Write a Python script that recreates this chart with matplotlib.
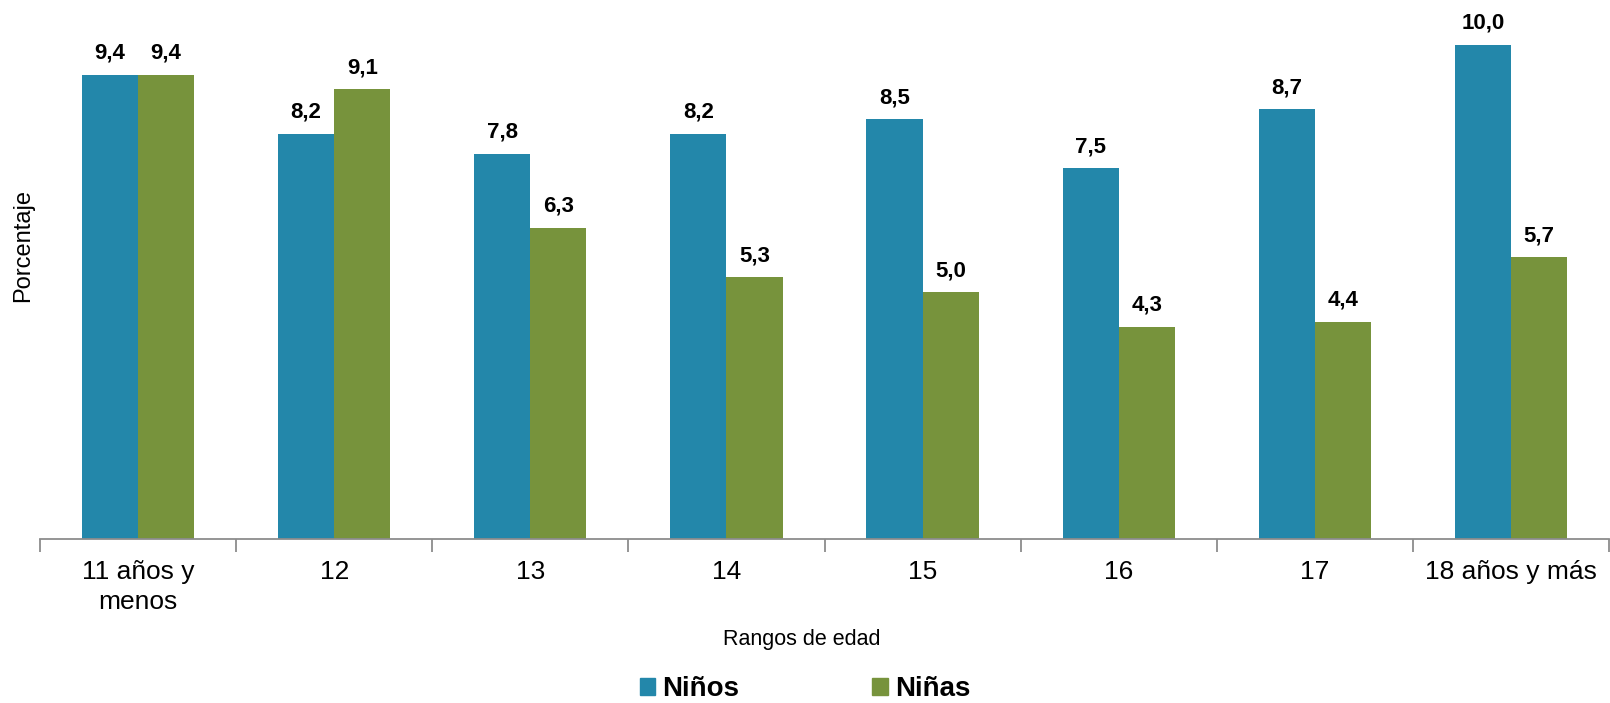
import numpy as np
import matplotlib.pyplot as plt
from matplotlib.patches import Patch

plt.rcParams['font.family'] = ['Liberation Sans', 'DejaVu Sans']

categorias = ['11 años y\nmenos', '12', '13', '14', '15', '16', '17', '18 años y más']
ninos = [9.4, 8.2, 7.8, 8.2, 8.5, 7.5, 8.7, 10.0]
ninas = [9.4, 9.1, 6.3, 5.3, 5.0, 4.3, 4.4, 5.7]

azul = '#2387AA'
verde = '#77933C'

fig = plt.figure(figsize=(16.1, 7.03), dpi=100)
ax = fig.add_axes([40/1610, 164/703, 1569/1610, 539/703])

x = np.arange(len(categorias))
w = 0.286
b1 = ax.bar(x - w/2, ninos, w, color=azul)
b2 = ax.bar(x + w/2, ninas, w, color=verde)

for bars, vals in ((b1, ninos), (b2, ninas)):
    for r, v in zip(bars, vals):
        ax.annotate(f'{v:.1f}'.replace('.', ','),
                    (r.get_x() + r.get_width()/2, r.get_height()),
                    xytext=(0, 11.5), textcoords='offset points',
                    ha='center', va='baseline', fontsize=16, fontweight='bold')

ax.set_xlim(-0.5, len(categorias) - 0.5)
ax.set_ylim(0, 10.91)
ax.set_xticks(x)
ax.set_xticklabels(categorias, fontsize=19, linespacing=1.3)
ax.set_xticks(np.arange(len(categorias) + 1) - 0.5, minor=True)
ax.tick_params(axis='x', which='major', length=0, pad=15)
ax.tick_params(axis='x', which='minor', length=9, width=1.3, color='#8c8c8c')
ax.set_yticks([])
for s in ('top', 'right', 'left'):
    ax.spines[s].set_visible(False)
ax.spines['bottom'].set_color('#8c8c8c')
ax.spines['bottom'].set_linewidth(1.3)

fig.text(802/1610, 1 - 639/703, 'Rangos de edad', ha='center', va='center', fontsize=15.5)
fig.text(23/1610, 1 - 245/703, 'Porcentaje', ha='center', va='center', rotation=90, fontsize=17)

handles = [Patch(color=azul, label='Niños'), Patch(color=verde, label='Niñas')]
fig.legend(handles=handles, loc='center', bbox_to_anchor=(805/1610, 1 - 689/703), ncol=2,
           frameon=False, prop={'size': 20, 'weight': 'bold'},
           handlelength=0.55, handleheight=0.55, handletextpad=0.25, columnspacing=4.8,
           borderpad=0)

fig.savefig('out.png', dpi=100)
